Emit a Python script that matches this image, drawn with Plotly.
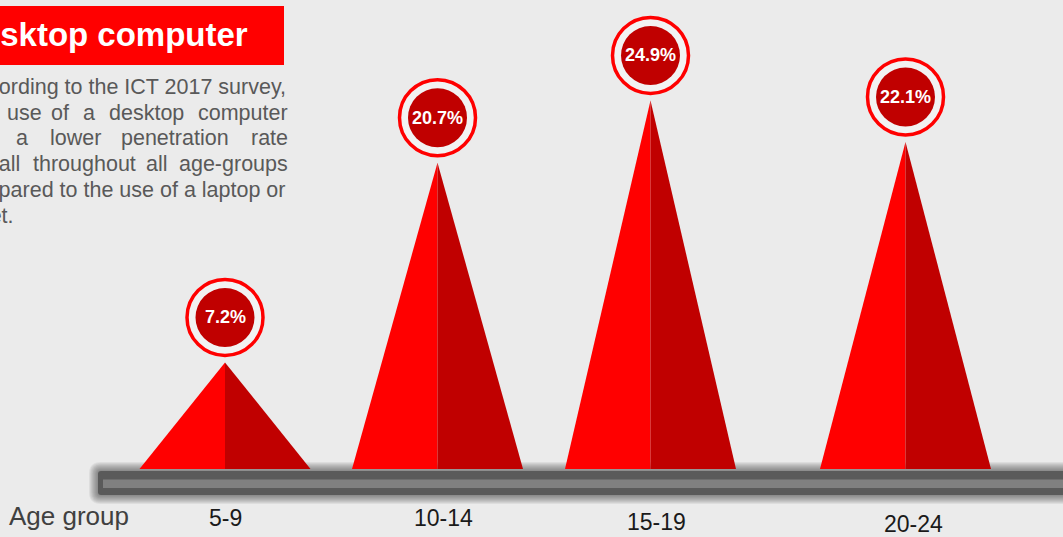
import plotly.graph_objects as go

# ICT 2017 survey: use of a desktop computer by age group (%)
age_groups = ["5-9", "10-14", "15-19", "20-24"]
desktop_share = [7.2, 20.7, 24.9, 22.1]

# Canvas and geometry (pixels on a 1063 x 537 page)
W, H = 1063, 537
x_centers = [225, 437.5, 650.5, 905.5]
half_base = 85.5
label_x = [225, 443.5, 656, 913]
label_y = [518, 518, 522, 523.5]
base_px = 469
px_per_pct = 14.8

BG = "#ebebeb"
RED = "#ff0000"
DARK_RED = "#c00000"
FONT = "Liberation Sans, Arial, sans-serif"


def px(x):
    return x / W


def py(y):
    return 1 - y / H


def rounded_bar(x0, x1, top, bottom, r):
    """Path for a bar with a rounded left end, in pixel offsets from the
    baseline (y positive upward)."""
    yt, yb = base_px - top, base_px - bottom
    if r <= 0:
        return f"M {x0},{yt} L {x1},{yt} L {x1},{yb} L {x0},{yb} Z"
    return (f"M {x0 + r},{yt} L {x1},{yt} L {x1},{yb} L {x0 + r},{yb} "
            f"Q {x0},{yb} {x0},{yb + r} L {x0},{yt - r} Q {x0},{yt} {x0 + r},{yt} Z")


fig = go.Figure()

# Each pyramid: a bright left half and a shaded right half
for cx, v in zip(x_centers, desktop_share):
    fig.add_trace(go.Scatter(
        x=[cx - half_base, cx, cx, cx - half_base],
        y=[0, 0, v, 0],
        mode="lines", fill="toself", fillcolor=RED,
        line=dict(width=0), hoverinfo="skip", showlegend=False,
    ))
    fig.add_trace(go.Scatter(
        x=[cx, cx + half_base, cx, cx],
        y=[0, 0, v, 0],
        mode="lines", fill="toself", fillcolor=DARK_RED,
        line=dict(width=0), hoverinfo="skip", showlegend=False,
    ))

shapes = []

# Title banner
shapes.append(dict(type="rect", xref="paper", yref="paper",
                   x0=px(-5), x1=px(284), y0=py(65), y1=py(6),
                   fillcolor=RED, line=dict(width=0), layer="below"))

# Platform under the pyramids: soft shadow, dark slab, light stripe
pixel_shape = dict(type="path", xref="x", yref="y", xsizemode="pixel", ysizemode="pixel",
                   xanchor=0, yanchor=0, line=dict(width=0), layer="below")
for d in [9, 8, 7, 6, 5, 4, 3, 2, 1]:
    shapes.append(dict(pixel_shape, path=rounded_bar(98 - d, W + 20, 471 - d, 495 + d, 3 + d),
                       fillcolor="#303030", opacity=0.075))
shapes.append(dict(pixel_shape, path=rounded_bar(98, W + 20, 471, 495, 3),
                   fillcolor="#5a5a5a"))
shapes.append(dict(pixel_shape, path=rounded_bar(103, W + 20, 479.5, 488, 0),
                   fillcolor="#808080"))

# Value badges above each peak
badge_offset = 45
ring_r = 38
inner_r = 29.5
annotations = []
for cx, v in zip(x_centers, desktop_share):
    shapes.append(dict(type="circle", xref="x", yref="y",
                       xsizemode="pixel", ysizemode="pixel",
                       xanchor=cx, yanchor=v,
                       x0=-ring_r, x1=ring_r,
                       y0=badge_offset - ring_r, y1=badge_offset + ring_r,
                       fillcolor="#f2f2f2", line=dict(color=RED, width=3.5)))
    shapes.append(dict(type="circle", xref="x", yref="y",
                       xsizemode="pixel", ysizemode="pixel",
                       xanchor=cx, yanchor=v,
                       x0=-inner_r, x1=inner_r,
                       y0=badge_offset - inner_r, y1=badge_offset + inner_r,
                       fillcolor=DARK_RED, line=dict(width=0)))
    annotations.append(dict(x=cx, y=v, xref="x", yref="y", yshift=badge_offset,
                            xanchor="center", yanchor="middle",
                            text=f"{v}%", showarrow=False,
                            font=dict(family=FONT, size=18, color="white", weight="bold")))

# Category labels
annotations.append(dict(x=px(68.5), y=py(516), xref="paper", yref="paper",
                        xanchor="center", yanchor="middle",
                        text="Age group", showarrow=False,
                        font=dict(family=FONT, size=26, color="#404040")))
for lab, lx, ly in zip(age_groups, label_x, label_y):
    annotations.append(dict(x=px(lx), y=py(ly), xref="paper", yref="paper",
                            xanchor="center", yanchor="middle",
                            text=lab, showarrow=False,
                            font=dict(family=FONT, size=23, color="#1a1a1a")))

# Banner title
annotations.append(dict(x=px(250), y=py(35), xref="paper", yref="paper",
                        xanchor="right", yanchor="middle",
                        text="Desktop computer", showarrow=False,
                        font=dict(family=FONT, size=33, color="white", weight="bold")))

# Justified paragraph, placed word by word
TEXT_GREY = "#595959"
para_size = 21.5
full_lines = [
    ("According to the ICT 2017 survey,", 288, 87),
    ("compared to the use of a laptop or", 288, 190),
    ("tablet.", 16, 216),
]
for txt, right, yc in full_lines:
    annotations.append(dict(x=px(right), y=py(yc), xref="paper", yref="paper",
                            xanchor="right", yanchor="middle", text=txt, showarrow=False,
                            font=dict(family=FONT, size=para_size, color=TEXT_GREY)))

spread_lines = [
    (113, [("the", -22.6), ("use", 24), ("of", 59.5), ("a", 88.5),
           ("desktop", 146), ("computer", 243)]),
    (138, [("has", -23), ("a", 22), ("lower", 75), ("penetration", 175), ("rate", 269.5)]),
    (164, [("overall", -12), ("throughout", 84), ("all", 157), ("age-groups", 233.5)]),
]
for yc, words in spread_lines:
    for word, xc in words:
        annotations.append(dict(x=px(xc), y=py(yc), xref="paper", yref="paper",
                                xanchor="center", yanchor="middle", text=word, showarrow=False,
                                font=dict(family=FONT, size=para_size, color=TEXT_GREY)))

fig.update_layout(
    width=W, height=H,
    margin=dict(l=0, r=0, t=0, b=0),
    paper_bgcolor=BG, plot_bgcolor=BG,
    xaxis=dict(range=[0, W], visible=False, fixedrange=True),
    yaxis=dict(range=[-(H - base_px) / px_per_pct, base_px / px_per_pct],
               visible=False, fixedrange=True),
    shapes=shapes,
    annotations=annotations,
    hovermode=False,
    showlegend=False,
)

fig.write_html("out.html")
